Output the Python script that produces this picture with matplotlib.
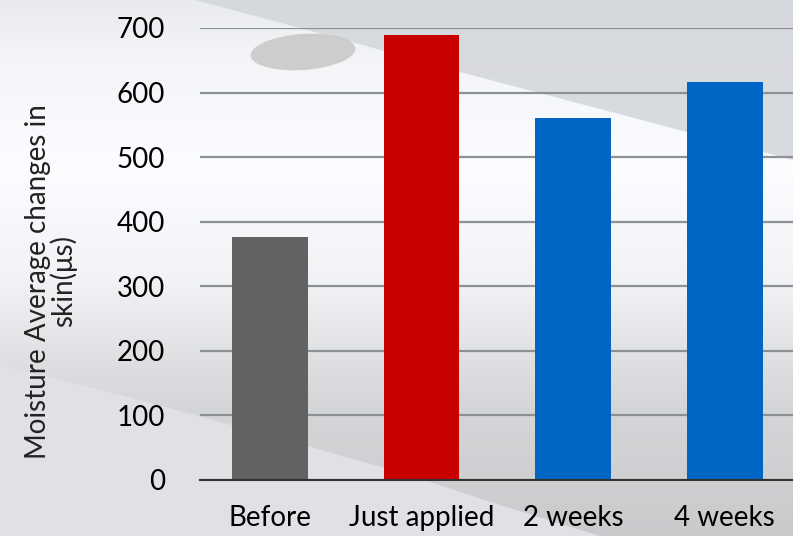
import numpy as np
import matplotlib.pyplot as plt
from matplotlib.patches import Polygon, Ellipse

categories = ["Before", "Just applied", "2 weeks", "4 weeks"]
values = [377, 689, 561, 616]
colors = ["#626262", "#c80000", "#0066c4", "#0066c4"]
yticks = [0, 100, 200, 300, 400, 500, 600, 700]

W, H = 793, 536
fig = plt.figure(figsize=(W / 100, H / 100), dpi=100)

# background: vertical gradient plus two grey sweeps
bg = fig.add_axes([0, 0, 1, 1], zorder=-10)
bg.set_xlim(0, W)
bg.set_ylim(H, 0)
bg.axis("off")
stops_y = [0, 60, 170, 280, 400, 536]
stops_c = [0.93, 0.97, 1.0, 0.96, 0.85, 0.80]
grad = np.interp(np.arange(H), stops_y, stops_c)
img = np.repeat(grad[:, None], 4, axis=1)
rgb = np.dstack([img * 0.985, img * 0.99, img])
bg.imshow(rgb, extent=[0, W, H, 0], aspect="auto", interpolation="bilinear")
bg.add_patch(Polygon([(195, 0), (W, 0), (W, 160), (460, 72), (330, 36)],
                     closed=True, fc="#d2d5da", ec="none", alpha=0.85))
xs = np.array([0, 120, 250, 400, 500, 600])
ys = np.array([365, 395, 430, 472, 505, 536])
bg.add_patch(Polygon(list(zip(xs, ys)) + [(600, H), (0, H)],
                     closed=True, fc="#dfe1e4", ec="none"))
bg.add_patch(Ellipse((303, 52), 105, 36, angle=-4, fc="#c9c9c9", ec="none", alpha=0.9))

plt.rcParams["font.family"] = ["Lato", "DejaVu Sans"]

ax = fig.add_axes([200 / W, 56 / H, 1 - 200 / W, 452 / H])
ax.patch.set_visible(False)
x = np.arange(len(categories))
ax.bar(x, values, width=0.5, color=colors, zorder=3)
ax.set_xlim(-0.46, 3.45)
ax.set_ylim(0, 700)
ax.set_yticks(yticks)
ax.set_yticklabels([str(t) for t in yticks], fontsize=20)
ax.set_xticks(x)
ax.set_xticklabels(categories, fontsize=20)
ax.tick_params(axis="y", length=0, pad=25)
ax.tick_params(axis="x", length=0, pad=18)
ax.yaxis.grid(True, color="#8c9196", linewidth=1.6, zorder=0)
ax.set_axisbelow(True)
for s in ["left", "right", "top"]:
    ax.spines[s].set_visible(False)
ax.spines["bottom"].set_color("#333333")
ax.spines["bottom"].set_linewidth(1.5)
ax.spines["bottom"].set_zorder(4)

ax.set_ylabel("Moisture Average changes in\nskin(\u03bcs)", fontsize=20,
              linespacing=0.95, color="#222222")
ax.yaxis.set_label_coords(-0.207, 0.44)

plt.savefig("out.png", dpi=100)
